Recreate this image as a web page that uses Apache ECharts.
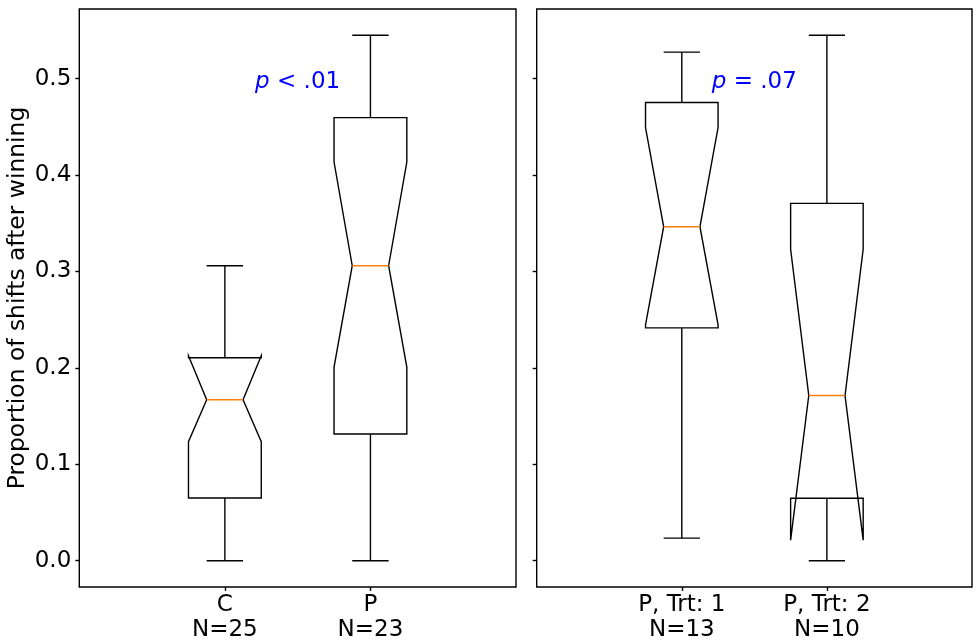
<!DOCTYPE html>
<html><head><meta charset="utf-8">
<script src="https://cdn.jsdelivr.net/npm/echarts@6/dist/echarts.min.js"></script>
<style>html,body{margin:0;padding:0;background:#fff}#c{width:976px;height:643px}</style>
</head><body><div id="c"></div>
<script>
// ---- data ----
const positions = [1, 2];
const leftCategories = ['C', 'P'];
const leftN = [25, 23];
const rightCategories = ['P, Trt: 1', 'P, Trt: 2'];
const rightN = [13, 10];

const leftWhiskerLow  = [0.0,    0.0];
const leftQ1          = [0.065,  0.1315];
const leftNotchLow    = [0.1235, 0.2008];
const leftMedian      = [0.167,  0.306];
const leftNotchHigh   = [0.2127, 0.4135];
const leftQ3          = [0.2105, 0.4596];
const leftWhiskerHigh = [0.306,  0.545];

const rightWhiskerLow  = [0.0234, 0.0];
const rightQ1          = [0.2415, 0.0648];
const rightNotchLow    = [0.2446, 0.0213];
const rightMedian      = [0.3464, 0.1714];
const rightNotchHigh   = [0.4493, 0.323];
const rightQ3          = [0.4752, 0.3706];
const rightWhiskerHigh = [0.5275, 0.5451];

const yTicks = [0.0, 0.1, 0.2, 0.3, 0.4, 0.5];
const yMin = -0.02725, yMax = 0.57225;
const xMin = 0, xMax = 3;
const pTextX = 1.5, pTextY = 0.5;
const pLeft = '< .01', pRight = '= .07';
const yName = 'Proportion of shifts after winning';

// ---- build ----
function boxData(lo, q1, nlo, med, nhi, q3, hi) {
  return positions.map((p, i) => [p, lo[i], q1[i], nlo[i], med[i], nhi[i], q3[i], hi[i]]);
}
const FONT = 'DejaVu Sans';
const FS = 23;
const LW = 1.4;

function renderBox(params, api) {
  const x = api.value(0);
  const lo = api.value(1), q1 = api.value(2), nlo = api.value(3), med = api.value(4),
        nhi = api.value(5), q3 = api.value(6), hi = api.value(7);
  const hw = 0.25, qw = 0.125;
  const P = (dx, v) => api.coord([x + dx, v]);
  const poly = [P(-hw, q1), P(hw, q1), P(hw, nlo), P(qw, med), P(hw, nhi), P(hw, q3),
                P(-hw, q3), P(-hw, nhi), P(-qw, med), P(-hw, nlo)];
  const st = {fill: 'none', stroke: '#000', lineWidth: LW};
  return {type: 'group', children: [
    {type: 'polygon', shape: {points: poly}, style: st},
    {type: 'polyline', shape: {points: [P(0, q1), P(0, lo)]}, style: st},
    {type: 'polyline', shape: {points: [P(0, q3), P(0, hi)]}, style: st},
    {type: 'polyline', shape: {points: [P(-qw, lo), P(qw, lo)]}, style: st},
    {type: 'polyline', shape: {points: [P(-qw, hi), P(qw, hi)]}, style: st},
    {type: 'polyline', shape: {points: [P(-qw, med), P(qw, med)]}, style: {fill: 'none', stroke: '#ff7f0e', lineWidth: LW}}
  ]};
}
function makeTextRenderer(txt) {
  return function (params, api) {
    const c = api.coord([api.value(0), api.value(1)]);
    return {type: 'text', x: c[0], y: c[1] + 3, style: {
      text: '{i|p} ' + txt, align: 'center', verticalAlign: 'middle',
      rich: {i: {fontStyle: 'italic', fontFamily: FONT, fontSize: FS, fill: '#0000ff'}},
      fontFamily: FONT, fontSize: FS, fill: '#0000ff'
    }};
  };
}

function xAxis(idx, cats, ns) {
  return {
    type: 'value', gridIndex: idx, min: xMin, max: xMax,
    splitLine: {show: false}, axisLine: {show: false, onZero: false},
    axisTick: {show: true, customValues: positions, length: 4, lineStyle: {color: '#000', width: LW}},
    axisLabel: {customValues: positions, margin: 6, fontFamily: FONT, fontSize: FS, lineHeight: 25, color: '#000',
      formatter: v => { const i = positions.indexOf(v); return i < 0 ? '' : cats[i] + '\nN=' + ns[i]; }}
  };
}
function yAxis(idx, labels) {
  const a = {
    type: 'value', gridIndex: idx, min: yMin, max: yMax,
    splitLine: {show: false}, axisLine: {show: false, onZero: false},
    axisTick: {show: true, customValues: yTicks, length: 4, lineStyle: {color: '#000', width: LW}},
    axisLabel: {show: labels, customValues: yTicks, margin: 8, fontFamily: FONT, fontSize: FS, color: '#000',
      formatter: v => v.toFixed(1)}
  };
  if (labels) {
    Object.assign(a, {name: yName, nameLocation: 'middle', nameGap: 50,
      nameTextStyle: {fontFamily: FONT, fontSize: 23.4, color: '#000'}});
  }
  return a;
}

const chart = echarts.init(document.getElementById('c'));
chart.setOption({
  animation: false,
  backgroundColor: '#fff',
  grid: [
    {left: 79.3, right: 460, top: 9, bottom: 54, show: true, borderColor: '#000', borderWidth: LW, containLabel: false},
    {left: 536.7, right: 4, top: 9, bottom: 54, show: true, borderColor: '#000', borderWidth: LW, containLabel: false}
  ],
  xAxis: [xAxis(0, leftCategories, leftN), xAxis(1, rightCategories, rightN)],
  yAxis: [yAxis(0, true), yAxis(1, false)],
  series: [
    {type: 'custom', xAxisIndex: 0, yAxisIndex: 0, renderItem: renderBox, clip: false,
     data: boxData(leftWhiskerLow, leftQ1, leftNotchLow, leftMedian, leftNotchHigh, leftQ3, leftWhiskerHigh)},
    {type: 'custom', xAxisIndex: 1, yAxisIndex: 1, renderItem: renderBox, clip: false,
     data: boxData(rightWhiskerLow, rightQ1, rightNotchLow, rightMedian, rightNotchHigh, rightQ3, rightWhiskerHigh)},
    {type: 'custom', xAxisIndex: 0, yAxisIndex: 0, renderItem: makeTextRenderer(pLeft), data: [[pTextX, pTextY]]},
    {type: 'custom', xAxisIndex: 1, yAxisIndex: 1, renderItem: makeTextRenderer(pRight), data: [[pTextX, pTextY]]}
  ]
});
</script></body></html>
